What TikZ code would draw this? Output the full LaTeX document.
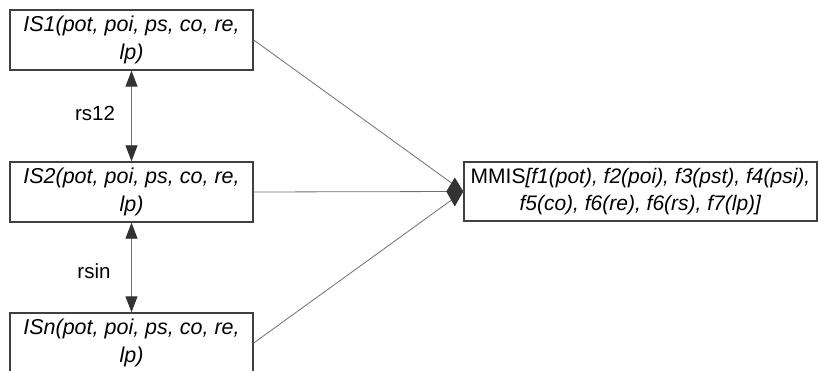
\documentclass[tikz,border=0pt]{standalone}
\usepackage{fontspec}
\setmainfont{Liberation Sans}
\usetikzlibrary{arrows.meta}
\definecolor{boxline}{HTML}{404040}
\definecolor{conn}{HTML}{707070}
\definecolor{tipcol}{HTML}{333333}
\tikzset{
  isbox/.style={draw=boxline, line width=1.4pt, fill=white, minimum width=243pt, minimum height=60pt, inner sep=0pt, align=center, font=\fontsize{21.5}{28}\selectfont\itshape},
  mbox/.style={draw=boxline, line width=1.4pt, fill=white, minimum width=353pt, minimum height=59pt, inner sep=0pt, align=center, font=\fontsize{21}{27.5}\selectfont},
  conline/.style={draw=conn, line width=0.8pt},
  relarrow/.style={draw=conn, line width=0.9pt, {Triangle[width=12pt,length=16pt,fill=tipcol,color=tipcol]}-{Triangle[width=12pt,length=16pt,fill=tipcol,color=tipcol]}},
  rlabel/.style={font=\fontsize{20.5}{24}\selectfont, inner sep=0pt}
}
\begin{document}
\begin{tikzpicture}[x=1pt,y=1pt]
\path[use as bounding box, clip] (0,0) rectangle (818,-371);
\fill[white] (0,0) rectangle (818,-371);
\node[isbox] (is1) at (131.5,-40) {IS1(pot, poi, ps, co, re,\\lp)};
\node[isbox] (is2) at (131.5,-192) {IS2(pot, poi, ps, co, re,\\lp)};
\node[isbox] (isn) at (131.5,-343) {ISn(pot, poi, ps, co, re,\\lp)};
\node[mbox] (m) at (640.5,-191.5) {MMIS\textit{[f1(pot), f2(poi), f3(pst), f4(psi),}\\\textit{f5(co), f6(re), f6(rs), f7(lp)]}};
\draw[conline] (is1.east) -- (m.west);
\draw[conline] (is2.east) -- (m.west);
\draw[conline] (isn.east) -- (m.west);
\fill[tipcol, shift={(m.west)}] (-17,0) -- (-8.5,14) -- (0,0) -- (-8.5,-15) -- cycle;
\draw[relarrow] (is1.south) -- (is2.north);
\draw[relarrow] (is2.south) -- (isn.north);
\node[rlabel] (l1) at (95,-113) {rs12};
\node[rlabel] (l2) at (94,-271) {rsin};
\end{tikzpicture}
\end{document}
